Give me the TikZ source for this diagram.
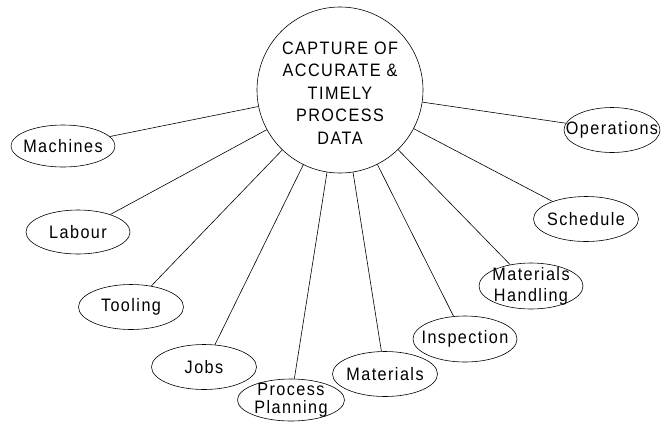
\documentclass[tikz,border=0pt]{standalone}
\usepackage{fontspec}
\setmainfont{Liberation Sans}[LetterSpace=8, FakeStretch=0.9]
\usetikzlibrary{shapes.geometric}
\begin{document}
\begin{tikzpicture}[x=1pt,y=-1pt,
  every path/.style={line width=0.6pt},
  hub/.style={draw, circle, inner sep=0pt, minimum size=166pt},
  oval/.style={draw, ellipse, inner sep=0pt, minimum width=104pt, minimum height=44pt},
  txt/.style={font=\fontsize{18}{20}\selectfont, align=center, inner sep=0pt},
  link/.style={draw, line width=0.6pt}]
\useasboundingbox (0,0) rectangle (661,424);
\node[hub, label={[txt, font=\fontsize{18}{22.5}\selectfont, yshift=-3pt]center:{CAPTURE OF\\ACCURATE \&\\TIMELY\\PROCESS\\DATA}}] (c) at (340,90) {};
\node[oval, minimum height=42pt, label={[txt]center:Machines}] (mach) at (63,146) {};
\node[oval, label={[txt]center:Labour}] (lab) at (78,232) {};
\node[oval, minimum width=105pt, minimum height=45pt, label={[txt]center:Tooling}] (tool) at (131,307) {};
\node[oval, minimum width=105pt, minimum height=45pt, label={[txt]center:Jobs}] (jobs) at (204,367) {};
\node[oval, minimum width=107pt, minimum height=42pt, label={[txt, font=\fontsize{18}{18}\selectfont]center:{Process\\Planning}}] (pp) at (291,400) {};
\node[oval, minimum width=105pt, minimum height=45pt, label={[txt]center:Materials}] (mat) at (385,374) {};
\node[oval, minimum height=46pt, label={[txt]center:Inspection}] (insp) at (465,339) {};
\node[oval, minimum height=46pt, label={[txt, font=\fontsize{18}{21}\selectfont]center:{Materials\\Handling}}] (mh) at (531,286) {};
\node[oval, minimum width=105pt, minimum height=45pt, label={[txt]center:Schedule}] (sched) at (586,219) {};
\node[oval, minimum width=96pt, minimum height=45pt, label={[txt]center:Operations}] (ops) at (612,130) {};
\foreach \n in {mach,lab,tool,jobs,pp,mat,insp,mh,sched,ops}
  \draw[link] (c) -- (\n);
\end{tikzpicture}
\end{document}
